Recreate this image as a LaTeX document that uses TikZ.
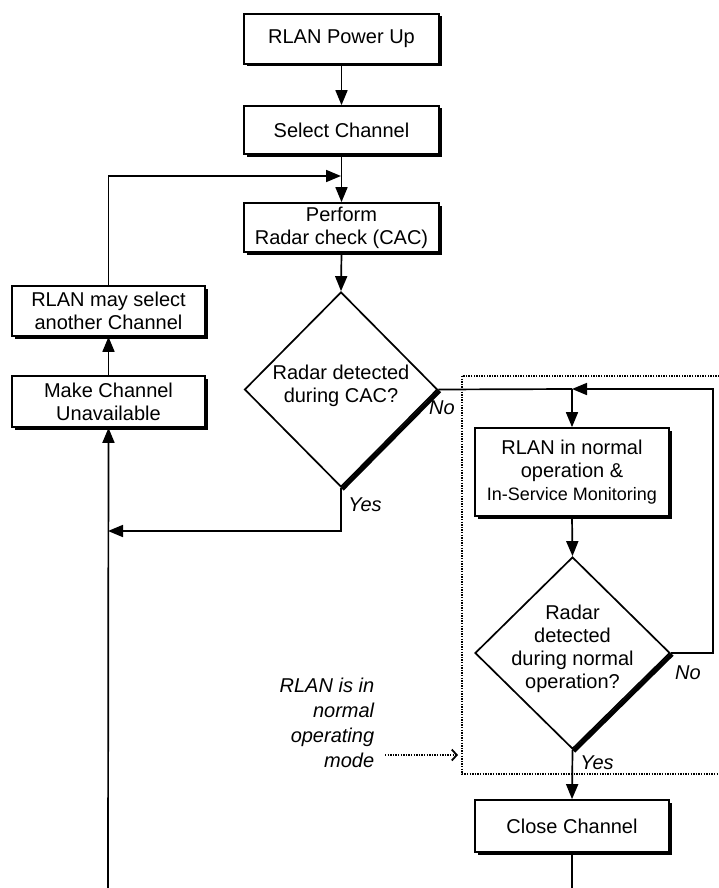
\documentclass[tikz,border=0pt]{standalone}
\usepackage{fontspec}
\setmainfont{Liberation Sans}
\usetikzlibrary{arrows.meta,shapes.geometric,shadows}
\begin{document}
\begin{tikzpicture}[x=1pt,y=-1pt,
  line width=1.7pt,
  arr/.style={-{Triangle[length=15pt,width=12pt]}},
  box/.style={draw, fill=white, rectangle, align=center, inner sep=0pt,
    font=\fontsize{20}{23}\selectfont,
    drop shadow={shadow xshift=2.5pt, shadow yshift=-2.5pt, fill=black, opacity=1}},
  dec/.style={draw, fill=white, diamond, inner sep=0pt, align=center,
    font=\fontsize{20}{23}\selectfont},
  lbl/.style={font=\fontsize{20}{23}\selectfont\itshape, inner sep=0pt},
  edge3/.style={line width=4pt},
  dots/.style={line width=2.2pt, dash pattern=on 1.4pt off 1.2pt},
]
\useasboundingbox (0,0) rectangle (719,888);

% dotted frame
\draw[dots] (462,376) rectangle (740,774);

% nodes
\node[box, minimum width=195pt, minimum height=50pt] (pu) at (341.5,39) {RLAN Power Up};
\node[box, minimum width=195pt, minimum height=48pt] (sc) at (341.5,130) {Select Channel};
\node[box, minimum width=195pt, minimum height=49pt] (pr) at (341.5,227.5) {Perform\\Radar check (CAC)};
\node[dec, minimum width=193pt, minimum height=195pt] (d1) at (341,389.5) {};
\node[font=\fontsize{20}{23}\selectfont, align=center, inner sep=0pt] (t1) at (341,386) {Radar detected\\during CAC?};

\node[box, minimum width=193pt, minimum height=50pt] (ms) at (108.5,311) {RLAN may select\\another Channel};
\node[box, minimum width=193pt, minimum height=51pt] (mu) at (108.5,401.5) {Make Channel\\Unavailable};

\node[box, minimum width=194pt, minimum height=88pt] (rn) at (572,472) {RLAN in normal\\operation \&\\{\fontsize{18}{21}\selectfont In-Service Monitoring}};
\node[dec, minimum width=195pt, minimum height=192pt] (d2) at (572.5,653) {};
\node[font=\fontsize{20}{23}\selectfont, align=center, inner sep=0pt] (t2) at (572.5,649) {Radar\\detected\\during normal\\operation?};
\node[box, minimum width=194pt, minimum height=52pt] (cc) at (572,826) {Close Channel};

% thick lower-right diamond edges
\draw[edge3] ([shift={(1.3pt,-1.3pt)}]d1.east) -- ([shift={(1.3pt,-1.3pt)}]d1.south);
\draw[edge3] ([shift={(1.3pt,-1.3pt)}]d2.east) -- ([shift={(1.3pt,-1.3pt)}]d2.south);

% coordinates
\coordinate (j1) at (341,176);
\coordinate (j2) at (108,531);
\coordinate (j3) at (572,389);
\coordinate (c1) at (713,389);
\coordinate (b1) at (108,888);
\coordinate (b2) at (572,888);
\coordinate (a1) at (385,755);
\coordinate (a2) at (458,755);

% connectors
\draw[arr] (pu.south) -- (sc.north);
\draw[arr] (sc.south) -- (pr.north);
\draw[arr] (ms.north) |- (j1);
\draw[arr] (pr.south) -- (d1.north);
\draw[arr] (d1.south) |- (j2);
\draw[arr] (b1) -- (mu.south);
\draw[arr] (mu.north) -- (ms.south);
\draw (d1.east) -- (j3);
\draw[arr] (j3) -- (rn.north);
\draw[arr] (d2.east) -| (c1) -- (j3);
\draw[arr] (rn.south) -- (d2.north);
\draw[arr] (d2.south) -- (cc.north);
\draw (cc.south) -- (b2);

% labels
\node[lbl] (n1) at (442,408) {No};
\node[lbl] (y1) at (365,505) {Yes};
\node[lbl] (n2) at (688,673) {No};
\node[lbl] (y2) at (597,763) {Yes};
\node[font=\fontsize{20}{25}\selectfont\itshape, align=right, inner sep=0pt, anchor=north east] (lab) at (375,677) {RLAN is in\\normal\\operating\\mode};
\draw[dots, -{Straight Barb[length=5pt,width=11pt,line width=1.8pt]}] (a1) -- (a2);
\end{tikzpicture}
\end{document}
